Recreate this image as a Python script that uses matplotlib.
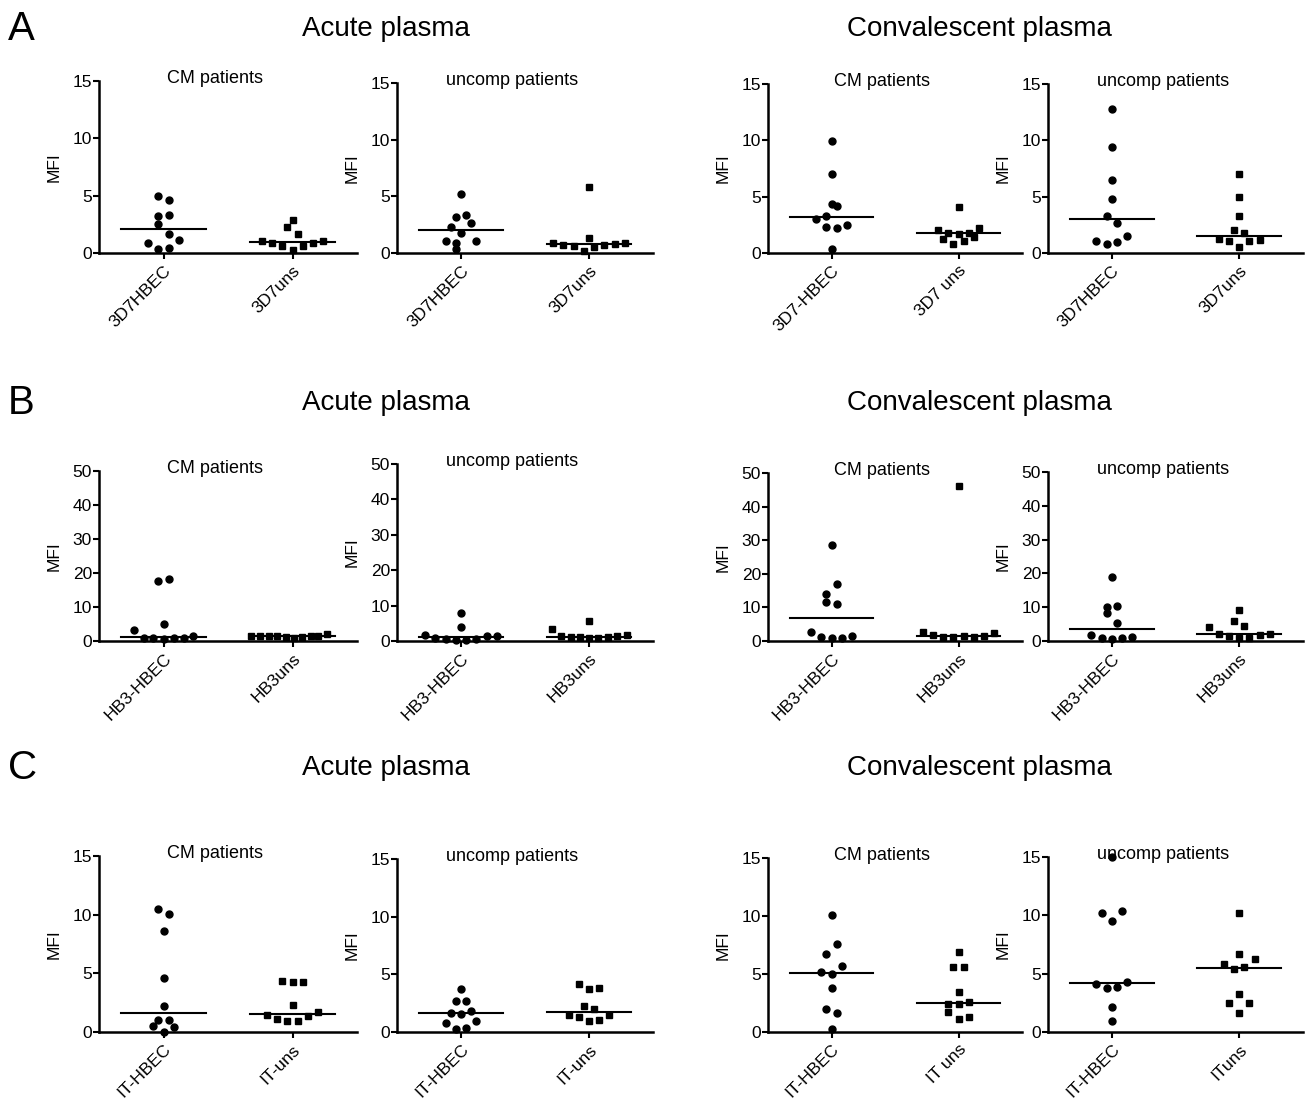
import numpy as np
import matplotlib.pyplot as plt

plt.rcParams['font.family'] = ['Liberation Sans', 'DejaVu Sans']

# MFI per patient; *_dx = horizontal scatter of each dot
# ---- A : 3D7
a_ac_cm_hbec = [4.94, 4.65, 3.20, 3.31, 2.50, 1.63, 0.84, 1.10, 0.38, 0.41]
a_ac_cm_hbec_dx = [-0.04, 0.04, -0.04, 0.04, -0.04, 0.04, -0.12, 0.12, -0.04, 0.04]
a_ac_cm_uns = [2.85, 2.27, 1.63, 1.02, 0.87, 0.64, 0.29, 0.64, 0.87, 1.02]
a_ac_cm_uns_dx = [0, -0.04, 0.04, -0.24, -0.16, -0.08, 0, 0.08, 0.16, 0.24]

a_ac_un_hbec = [5.23, 3.19, 3.37, 2.30, 2.66, 1.74, 1.03, 0.89, 1.06, 0.32]
a_ac_un_hbec_dx = [0, -0.04, 0.04, -0.08, 0.08, 0, -0.12, -0.04, 0.12, -0.04]
a_ac_un_uns = [5.85, 1.33, 0.86, 0.74, 0.65, 0.18, 0.53, 0.71, 0.83, 0.92]
a_ac_un_uns_dx = [0, 0, -0.28, -0.2, -0.12, -0.04, 0.04, 0.12, 0.2, 0.28]

a_cv_cm_hbec = [9.96, 6.97, 4.33, 4.21, 3.32, 2.99, 2.34, 2.19, 2.52, 0.39]
a_cv_cm_hbec_dx = [0, 0, 0, 0.04, -0.04, -0.12, -0.04, 0.04, 0.12, 0]
a_cv_cm_uns = [4.09, 2.07, 1.78, 1.72, 1.78, 2.22, 1.22, 0.80, 1.07, 1.42]
a_cv_cm_uns_dx = [0, -0.16, -0.08, 0, 0.08, 0.16, -0.12, -0.04, 0.04, 0.12]

a_cv_un_hbec = [12.77, 9.43, 6.52, 4.80, 3.29, 2.70, 1.07, 0.80, 0.95, 1.48]
a_cv_un_hbec_dx = [0, 0, 0, 0, -0.04, 0.04, -0.12, -0.04, 0.04, 0.12]
a_cv_un_uns = [7.02, 4.98, 3.32, 2.07, 1.75, 1.22, 1.07, 0.56, 1.04, 1.19]
a_cv_un_uns_dx = [0, 0, 0, -0.04, 0.04, -0.16, -0.08, 0, 0.08, 0.16]

# ---- B : HB3
b_ac_cm_hbec = [3.23, 17.55, 18.33, 5.10, 0.98, 0.78, 0.59, 0.78, 0.98, 1.47]
b_ac_cm_hbec_dx = [-0.23, -0.04, 0.04, 0, -0.15, -0.08, 0, 0.08, 0.16, 0.23]
b_ac_cm_uns = [1.57, 1.47, 1.47, 1.37, 1.18, 0.98, 1.18, 1.37, 1.47, 2.06]
b_ac_cm_uns_dx = [-0.32, -0.25, -0.18, -0.12, -0.05, 0.01, 0.07, 0.14, 0.2, 0.27]

b_ac_un_hbec = [1.70, 7.94, 4.06, 0.76, 0.57, 0.19, 0.38, 0.57, 1.51, 1.51]
b_ac_un_hbec_dx = [-0.28, 0, 0, -0.2, -0.12, -0.04, 0.04, 0.12, 0.2, 0.28]
b_ac_un_uns = [3.31, 5.67, 1.42, 1.04, 1.04, 0.76, 0.95, 1.04, 1.32, 1.80]
b_ac_un_uns_dx = [-0.29, 0, -0.22, -0.14, -0.07, 0, 0.07, 0.15, 0.22, 0.3]

b_cv_cm_hbec = [28.5, 17.0, 14.1, 11.6, 11.0, 2.69, 1.20, 0.90, 1.0, 1.39]
b_cv_cm_hbec_dx = [0, 0.04, -0.04, -0.04, 0.04, -0.16, -0.08, 0, 0.08, 0.16]
b_cv_cm_uns = [46.2, 2.69, 1.69, 1.20, 1.20, 1.39, 1.20, 1.39, 2.5]
b_cv_cm_uns_dx = [0, -0.28, -0.2, -0.12, -0.04, 0.04, 0.12, 0.2, 0.28]

b_cv_un_hbec = [18.9, 10.2, 10.4, 8.3, 5.4, 1.9, 0.9, 0.6, 0.8, 1.3]
b_cv_un_hbec_dx = [0, -0.04, 0.04, -0.04, 0.04, -0.16, -0.08, 0, 0.08, 0.16]
b_cv_un_uns = [9.2, 5.9, 4.4, 4.0, 2.0, 1.5, 1.0, 1.0, 1.7, 2.2]
b_cv_un_uns_dx = [0, -0.04, 0.04, -0.24, -0.16, -0.08, 0, 0.08, 0.16, 0.24]

# ---- C : IT
c_ac_cm_hbec = [10.50, 10.05, 8.60, 4.56, 2.21, 1.05, 0.99, 0.48, 0.45, 0.0]
c_ac_cm_hbec_dx = [-0.04, 0.04, 0, 0, 0, -0.04, 0.04, -0.08, 0.08, 0]
c_ac_cm_uns = [4.36, 4.27, 4.27, 2.26, 1.42, 1.13, 0.96, 0.96, 1.36, 1.70]
c_ac_cm_uns_dx = [-0.08, 0, 0.08, 0, -0.2, -0.12, -0.04, 0.04, 0.12, 0.2]

c_ac_un_hbec = [3.72, 2.68, 2.68, 1.67, 1.59, 1.85, 0.81, 0.92, 0.23, 0.32]
c_ac_un_hbec_dx = [0, -0.04, 0.04, -0.08, 0, 0.08, -0.12, 0.12, -0.04, 0.04]
c_ac_un_uns = [4.18, 3.69, 3.81, 2.28, 2.02, 1.50, 1.27, 0.98, 1.07, 1.44]
c_ac_un_uns_dx = [-0.08, 0, 0.08, -0.04, 0.04, -0.16, -0.08, 0, 0.08, 0.16]

c_cv_cm_hbec = [10.06, 7.56, 6.75, 5.72, 5.17, 4.97, 3.77, 1.98, 1.64, 0.23]
c_cv_cm_hbec_dx = [0, 0.04, -0.04, 0.08, -0.08, 0, 0, -0.04, 0.04, 0]
c_cv_cm_uns = [6.90, 5.60, 5.60, 3.45, 2.44, 2.44, 2.59, 1.75, 1.09, 1.29]
c_cv_cm_uns_dx = [0, -0.04, 0.04, 0, -0.08, 0, 0.08, -0.08, 0, 0.08]

c_cv_un_hbec = [15.0, 10.17, 10.37, 9.49, 4.14, 3.80, 3.86, 4.29, 2.11, 0.94]
c_cv_un_hbec_dx = [0, -0.08, 0.08, 0, -0.12, -0.04, 0.04, 0.12, 0, 0]
c_cv_un_uns = [10.2, 6.69, 5.83, 6.29, 5.40, 5.54, 3.26, 2.51, 2.51, 1.66]
c_cv_un_uns_dx = [0, 0, -0.12, 0.12, -0.04, 0.04, 0, -0.08, 0.08, 0]

# tick labels per panel
lab_a = ['3D7HBEC', '3D7uns']
lab_a_cv_cm = ['3D7-HBEC', '3D7 uns']
lab_b = ['HB3-HBEC', 'HB3uns']
lab_c = ['IT-HBEC', 'IT-uns']
lab_c_cv_cm = ['IT-HBEC', 'IT uns']
lab_c_cv_un = ['IT-HBEC', 'ITuns']

W, H = 1308, 1102
fig = plt.figure(figsize=(W / 100, H / 100), dpi=100)

# pixel layout (left spine x, width) per column and (top, bottom) per panel
col_left = [99, 397, 768, 1048]
col_width = [258, 256, 254, 255]
row_tops = [[81, 83, 84, 84], [471, 464, 473, 472], [856, 859, 858, 857]]
row_bottom = [253, 641, 1032]


def panel(row, col, hbec, hbec_dx, uns, uns_dx, labels, ymax, ystep, title):
    top = row_tops[row][col]
    bot = row_bottom[row]
    ax = fig.add_axes([col_left[col] / W, 1 - bot / H, col_width[col] / W, (bot - top) / H])
    groups = [(hbec, hbec_dx, 'o', 5.0), (uns, uns_dx, 's', 4.6)]
    for i, (vals, dx, mk, ms) in enumerate(groups):
        x = i + np.array(dx)
        ax.plot(x, vals, linestyle='none', marker=mk, ms=ms, color='black', clip_on=False, zorder=3)
        med = np.median(vals)
        ax.plot([i - 0.33, i + 0.33], [med, med], color='black', lw=1.5, zorder=2)
    ax.set_xlim(-0.5, 1.5)
    ax.set_ylim(0, ymax)
    ax.set_yticks(np.arange(0, ymax + 1, ystep))
    ax.set_xticks([0, 1])
    ax.set_xticklabels(labels, rotation=45, ha='right', rotation_mode='anchor', fontsize=12.5)
    ax.tick_params(axis='y', labelsize=12.5, length=4, width=1.5, pad=1)
    ax.tick_params(axis='x', length=4, width=1.5, pad=3)
    for s in ['top', 'right']:
        ax.spines[s].set_visible(False)
    for s in ['left', 'bottom']:
        ax.spines[s].set_linewidth(1.8)
    ax.set_ylabel('MFI', fontsize=12.5, labelpad=8)
    ax.text(0.45, 0.99, title, transform=ax.transAxes, ha='center', va='baseline', fontsize=13)
    return ax


panel(0, 0, a_ac_cm_hbec, a_ac_cm_hbec_dx, a_ac_cm_uns, a_ac_cm_uns_dx, lab_a, 15, 5, 'CM patients')
panel(0, 1, a_ac_un_hbec, a_ac_un_hbec_dx, a_ac_un_uns, a_ac_un_uns_dx, lab_a, 15, 5, 'uncomp patients')
panel(0, 2, a_cv_cm_hbec, a_cv_cm_hbec_dx, a_cv_cm_uns, a_cv_cm_uns_dx, lab_a_cv_cm, 15, 5, 'CM patients')
panel(0, 3, a_cv_un_hbec, a_cv_un_hbec_dx, a_cv_un_uns, a_cv_un_uns_dx, lab_a, 15, 5, 'uncomp patients')

panel(1, 0, b_ac_cm_hbec, b_ac_cm_hbec_dx, b_ac_cm_uns, b_ac_cm_uns_dx, lab_b, 50, 10, 'CM patients')
panel(1, 1, b_ac_un_hbec, b_ac_un_hbec_dx, b_ac_un_uns, b_ac_un_uns_dx, lab_b, 50, 10, 'uncomp patients')
panel(1, 2, b_cv_cm_hbec, b_cv_cm_hbec_dx, b_cv_cm_uns, b_cv_cm_uns_dx, lab_b, 50, 10, 'CM patients')
panel(1, 3, b_cv_un_hbec, b_cv_un_hbec_dx, b_cv_un_uns, b_cv_un_uns_dx, lab_b, 50, 10, 'uncomp patients')

panel(2, 0, c_ac_cm_hbec, c_ac_cm_hbec_dx, c_ac_cm_uns, c_ac_cm_uns_dx, lab_c, 15, 5, 'CM patients')
panel(2, 1, c_ac_un_hbec, c_ac_un_hbec_dx, c_ac_un_uns, c_ac_un_uns_dx, lab_c, 15, 5, 'uncomp patients')
panel(2, 2, c_cv_cm_hbec, c_cv_cm_hbec_dx, c_cv_cm_uns, c_cv_cm_uns_dx, lab_c_cv_cm, 15, 5, 'CM patients')
panel(2, 3, c_cv_un_hbec, c_cv_un_hbec_dx, c_cv_un_uns, c_cv_un_uns_dx, lab_c_cv_un, 15, 5, 'uncomp patients')

# row headers and panel letters
for letter, yc in zip(['A', 'B', 'C'], [29, 403, 768]):
    fig.text(8 / W, 1 - yc / H, letter, fontsize=29, ha='left', va='center')
    fig.text(386 / W, 1 - yc / H, 'Acute plasma', fontsize=20, ha='center', va='center')
    fig.text(979 / W, 1 - yc / H, 'Convalescent plasma', fontsize=20, ha='center', va='center')

fig.savefig('out.png', dpi=100)
